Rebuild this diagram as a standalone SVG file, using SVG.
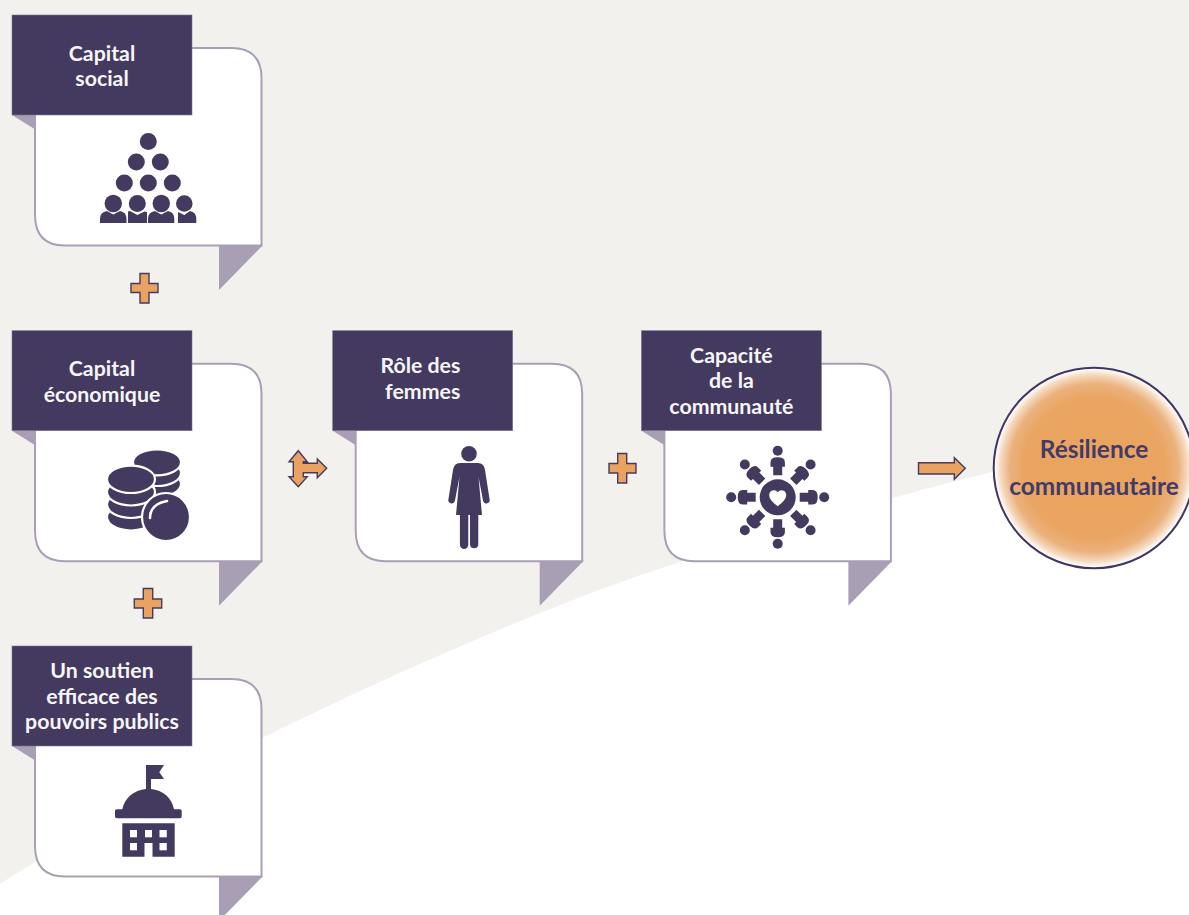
<svg xmlns="http://www.w3.org/2000/svg" width="1189" height="915" viewBox="0 0 1189 915">
<style>
.card{fill:#fff;stroke:#a99fb5;stroke-width:2}
.fold{fill:#a99fb5}
.tab{fill:#443a5f;stroke:#7d7590;stroke-width:.6}
.t{font-family:"Lato","Carlito","Liberation Sans",sans-serif;font-weight:700;font-size:21.300px;fill:#f6f5f8;text-anchor:middle}
.r{font-family:"Lato","Carlito","Liberation Sans",sans-serif;font-weight:700;font-size:24.400px;fill:#433a68;text-anchor:middle}
.i{fill:#443a5f}
.w{fill:#fff}
.c{fill:#e9a25f;stroke:#453b60;stroke-width:1.400;stroke-linejoin:miter}
</style>
<defs>
<g id="box">
<path class="fold" d="M12 115H36V130Z"/>
<path class="fold" d="M219 245H263L219 290Z"/>
<path class="card" d="M35 48H231Q261.500 48 261.500 78V245.500H65Q35 245.500 35 215Z"/>
<rect class="tab" x="12" y="15" width="180" height="100"/>
</g>
<radialGradient id="glow" cx="50%" cy="50%" r="50%">
<stop offset="0" stop-color="#e9a45f"/>
<stop offset=".7" stop-color="#e9a561"/>
<stop offset=".84" stop-color="#ebb27e"/>
<stop offset=".93" stop-color="#f5d9bf"/>
<stop offset=".99" stop-color="#fff"/>
</radialGradient>
<g id="spoke" class="i">
<circle cx="0" cy="-46.500" r="5"/>
<path d="M-4.500 -22V-30.500H-7.200V-35Q-7.200 -40 0 -40Q7.200 -40 7.200 -35V-30.500H4.500V-22Z"/>
</g>
</defs>
<rect width="1189" height="915" fill="#f2f1ee"/>
<path d="M0 884C60 845 170 785 262 738C400 670 560 600 680 562C790 528 890 497 980 475C1050 458 1120 445 1189 436V915H0Z" fill="#fff"/>

<g id="connectors">
<path id="plus1" class="c" d="M140 273.500H149V283.500H158V292.500H149V303H140V292.500H131V283.500H140Z"/>
<path id="plus2" class="c" d="M143.300 588.500H152.700V599H161.700V608H152.700V618H143.300V608H134.300V599H143.300Z"/>
<path id="plus3" class="c" d="M617.700 453.500H626.700V463.500H636V473H626.700V483H617.700V473H609V463.500H617.700Z"/>
<path id="tri" class="c" d="M298.300 450.700L307.300 461.700H303.300V463.300H317.300V459L326.700 468.300L317.300 477.700V472.700H303.300V476.700H307.300L298.300 486.700L289 476.700H293.300V461.700H289Z"/>
<path id="arrow" class="c" d="M918.500 462.700H954.300V457.700L965.300 468.300L954.300 479.300V474H918.500Z"/>
</g>

<g id="capital-social">
<use href="#box"/>
<text class="t" x="102" y="60.500">Capital</text>
<text class="t" x="102" y="86">social</text>
<g class="i">
<circle cx="148.300" cy="141.500" r="8.500"/>
<circle cx="136.300" cy="162" r="8.500"/><circle cx="160.300" cy="162" r="8.500"/>
<circle cx="124.300" cy="183" r="8.500"/><circle cx="148.300" cy="183" r="8.500"/><circle cx="172.300" cy="183" r="8.500"/>
<circle cx="113.300" cy="203.500" r="8.700"/><circle cx="137.300" cy="203.500" r="8.500"/><circle cx="161.300" cy="203.500" r="8.700"/><circle cx="184.300" cy="203.500" r="8.300"/>
<path d="M100 223V219Q100 212 107 211L113.300 214.500L120 211Q126.500 212 126.500 219V223Z"/>
<path d="M128 223V211.500L130 211L137.300 215L144.500 211.500L147 212V223H129.500Z"/>
<path d="M148 223V219Q148 212 155 211L161.300 214.500L168 211Q174.300 212 174.300 219V223Z"/>
<path d="M178 223V212L184.300 215L190 211Q196.300 212 196.300 219V223Z"/>
</g>
</g>

<g id="capital-economique" transform="translate(0 315.700)">
<use href="#box"/>
<text class="t" x="102" y="60">Capital</text>
<text class="t" x="102" y="86">économique</text>
</g>
<g id="coins" class="i" stroke="#fff" stroke-width="2.200">
<ellipse cx="157" cy="484" rx="24" ry="13"/>
<ellipse cx="157" cy="473" rx="24" ry="13"/>
<ellipse cx="157" cy="462.300" rx="24" ry="13"/>
<ellipse cx="131" cy="517" rx="24" ry="13.500"/>
<ellipse cx="131" cy="504.500" rx="24" ry="13.500"/>
<ellipse cx="131" cy="492" rx="24" ry="13.500"/>
<ellipse cx="131" cy="479.300" rx="24" ry="13.700"/>
<circle cx="166" cy="517" r="24"/>
<path d="M150 518Q150 504 167 501" fill="none" stroke-linecap="round" stroke-width="2.600"/>
</g>

<g id="soutien" transform="translate(0 631)">
<use href="#box"/>
</g>
<g id="soutien-content">
<text class="t" x="102" y="677.500">Un soutien</text>
<text class="t" x="102" y="703.500">efficace des</text>
<text class="t" x="102" y="729">pouvoirs publics</text>
<path class="i" d="M146 789V765H164L159.300 772.300L164 779H151V789C163 790 172 798 174 809.300H180Q181.700 809.300 181.700 811V816.500Q181.700 818.300 180 818.300H117Q115 818.300 115 816.500V811Q115 809.300 117 809.300H122.300C124.500 798 134 790 146 789Z"/>
<path class="i" d="M122.300 823.300H174.700V856.700H152.500V843H144.500V856.700H122.300Z"/>
<g class="w">
<rect x="130" y="830" width="7" height="7.300"/><rect x="145" y="830" width="7" height="7.300"/><rect x="159.500" y="830" width="7.300" height="7.300"/>
<rect x="130" y="843" width="7" height="7.300"/><rect x="159.500" y="843" width="7.300" height="7.300"/>
</g>
</g>

<g id="role-femmes" transform="translate(320.700 315.700)">
<use href="#box"/>
<text class="t" x="99.700" y="57.500">Rôle des</text>
<text class="t" x="102" y="83">femmes</text>
<circle class="i" cx="148.300" cy="138" r="7.800"/>
<path class="i" d="M139.300 147.300H157.300Q163.300 147.300 164.300 154.300L168.800 183.300A3.300 3.300 0 0 1 162.400 185.300L157.800 161L161.300 199.300H157.600V229A4.200 4.200 0 0 1 149.300 229V199.300H147.600V229A4.200 4.200 0 0 1 139.200 229V199.300H135.300L138.800 161L134.200 185.300A3.300 3.300 0 0 1 127.800 183.300L132.300 154.300Q133.300 147.300 139.300 147.300Z"/>
</g>

<g id="capacite" transform="translate(629.400 315.700)">
<use href="#box"/>
<text class="t" x="102" y="47">Capacité</text>
<text class="t" x="102" y="72.500">de la</text>
<text class="t" x="102" y="98">communauté</text>
</g>
<g id="community" transform="translate(777.700 497.300)">
<circle class="i" r="18"/>
<path class="w" d="M0 9C-5 5 -8.500 2 -8.500 -2.500A4.700 4.700 0 0 1 0 -5A4.700 4.700 0 0 1 8.500 -2.500C8.500 2 5 5 0 9Z"/>
<use href="#spoke"/>
<use href="#spoke" transform="rotate(45)"/>
<use href="#spoke" transform="rotate(90)"/>
<use href="#spoke" transform="rotate(135)"/>
<use href="#spoke" transform="rotate(180)"/>
<use href="#spoke" transform="rotate(225)"/>
<use href="#spoke" transform="rotate(270)"/>
<use href="#spoke" transform="rotate(315)"/>
</g>

<g id="resilience">
<circle cx="1094" cy="468" r="100.300" fill="url(#glow)" stroke="#3f3663" stroke-width="2"/>
<text class="r" x="1094" y="457.500">Résilience</text>
<text class="r" x="1094" y="494.500">communautaire</text>
</g>
</svg>
